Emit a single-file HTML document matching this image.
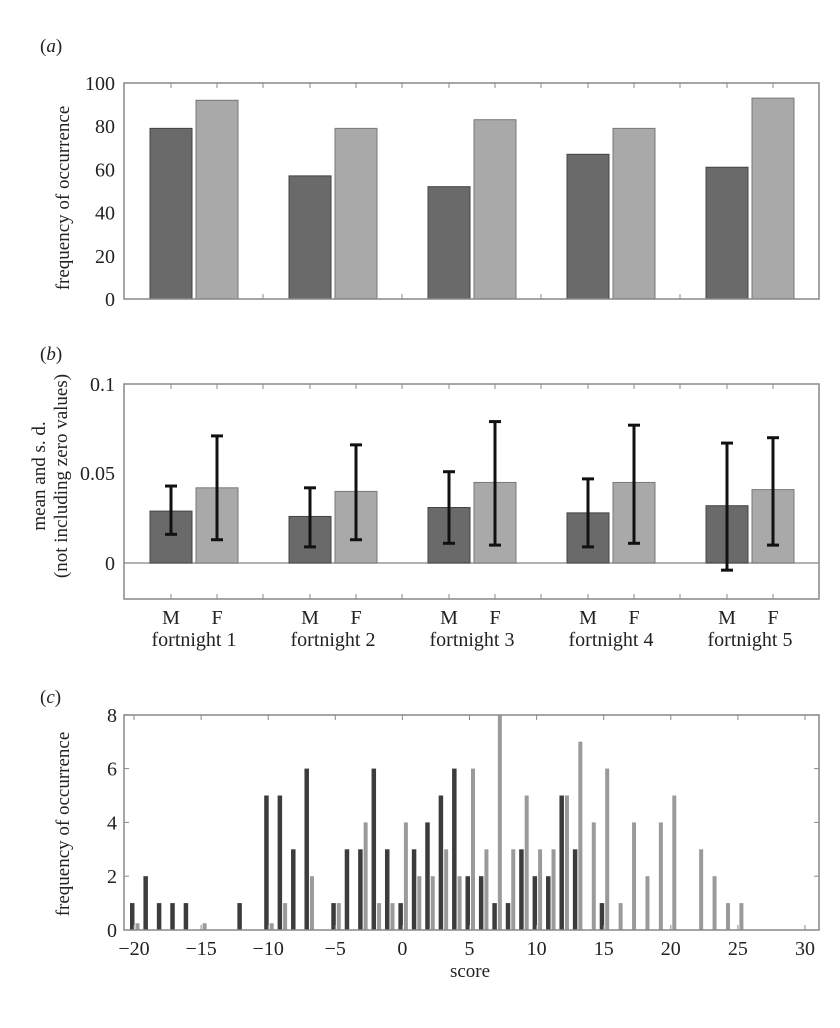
<!DOCTYPE html>
<html><head><meta charset="utf-8"><style>
html,body{margin:0;padding:0;background:#fff;}
svg{display:block;font-family:"Liberation Serif",serif;}
</style></head><body>
<svg id="s" width="840" height="1028" xmlns="http://www.w3.org/2000/svg"></svg>
<script>
var s=document.getElementById('s'),h='';
function R(x,y,w,hh,f,st){h+='<rect x="'+x+'" y="'+y+'" width="'+w+'" height="'+hh+'" fill="'+f+'" stroke="'+(st||'none')+'" stroke-width="1"/>';}
function L(x1,y1,x2,y2,c,w){h+='<line x1="'+x1+'" y1="'+y1+'" x2="'+x2+'" y2="'+y2+'" stroke="'+c+'" stroke-width="'+(w||1)+'"/>';}
function T(x,y,t,sz,a,extra){h+='<text x="'+x+'" y="'+y+'" font-size="'+sz+'" text-anchor="'+(a||'middle')+'" fill="#222" '+(extra||'')+'>'+t+'</text>';}
var D='#6a6a6a',Lg='#a9a9a9',ax='#888';
// panel a
var l=124,r=819;
T(40,52,'(<tspan font-style="italic">a</tspan>)',19,'start');
var da=[79,57,52,67,61],la=[92,79,83,79,93];
for(var i=0;i<5;i++){var x0=150+i*139;
R(x0,299-da[i]*2.16,42,da[i]*2.16,D,'#444');R(x0+46,299-la[i]*2.16,42,la[i]*2.16,Lg,'#777');
L(x0+21,83,x0+21,88,ax);L(x0+67,83,x0+67,88,ax);if(i<4){L(x0+113,83,x0+113,88,ax);L(x0+113,299,x0+113,294,ax);}}
h+='<rect x="124" y="83" width="695" height="216" fill="none" stroke="'+ax+'" stroke-width="1.5"/>';
[0,20,40,60,80,100].forEach(function(v){var y=299-v*2.16;T(115,y+7,v,20,'end');});
T(0,0,'frequency of occurrence',19,'middle','transform="translate(69,198) rotate(-90)"');
// panel b
T(40,360,'(<tspan font-style="italic">b</tspan>)',19,'start');
var db=[[.029,.016,.043],[.026,.009,.042],[.031,.011,.051],[.028,.009,.047],[.032,-.004,.067]];
var lb=[[.042,.013,.071],[.040,.013,.066],[.045,.010,.079],[.045,.011,.077],[.041,.010,.070]];
function Y(v){return 563-v*1790;}
L(124,563,819,563,'#999',1.5);
for(var i=0;i<5;i++){var x0=150+i*139;
R(x0,Y(db[i][0]),42,563-Y(db[i][0]),D,'#444');R(x0+46,Y(lb[i][0]),42,563-Y(lb[i][0]),Lg,'#777');
[[x0+21,db[i]],[x0+67,lb[i]]].forEach(function(p){var c=p[0];L(c,Y(p[1][1]),c,Y(p[1][2]),'#111',3);L(c-6,Y(p[1][1]),c+6,Y(p[1][1]),'#111',3);L(c-6,Y(p[1][2]),c+6,Y(p[1][2]),'#111',3);});
[x0+21,x0+67].forEach(function(c){L(c,384,c,389,ax);L(c,599,c,594,ax);});
if(i<4){L(x0+113,384,x0+113,389,ax);L(x0+113,599,x0+113,594,ax);}
T(x0+21,624,'M',20);T(x0+67,624,'F',20);T(x0+44,646,'fortnight '+(i+1),20);}
h+='<rect x="124" y="384" width="695" height="215" fill="none" stroke="'+ax+'" stroke-width="1.5"/>';
T(115,391,'0.1',20,'end');T(115,480,'0.05',20,'end');T(115,570,'0',20,'end');
T(0,0,'mean and s. d.',19,'middle','transform="translate(45,476) rotate(-90)"');
T(0,0,'(not including zero values)',19,'middle','transform="translate(67,476) rotate(-90)"');
// panel c
T(40,703,'(<tspan font-style="italic">c</tspan>)',19,'start');
function X(v){return 134+(v+20)*13.42;}
function YC(v){return 930-v*26.9;}
var dc={'-20':1,'-19':2,'-18':1,'-17':1,'-16':1,'-12':1,'-10':5,'-9':5,'-8':3,'-7':6,'-5':1,'-4':3,'-3':3,'-2':6,'-1':3,'0':1,'1':3,'2':4,'3':5,'4':6,'5':2,'6':2,'7':1,'8':1,'9':3,'10':2,'11':2,'12':5,'13':3,'15':1};
var lc={'-20':.25,'-15':.25,'-10':.25,'-9':1,'-7':2,'-5':1,'-3':4,'-2':1,'-1':1,'0':4,'1':2,'2':2,'3':3,'4':2,'5':6,'6':3,'7':8,'8':3,'9':5,'10':3,'11':3,'12':5,'13':7,'14':4,'15':6,'16':1,'17':4,'18':2,'19':4,'20':5,'22':3,'23':2,'24':1,'25':1};
for(var k in lc){var x=X(+k)+1.5;R(x,YC(lc[k]),4,930-YC(lc[k]),'#9a9a9a');}
for(var k in dc){var x=X(+k)-4;R(x,YC(dc[k]),4.5,930-YC(dc[k]),'#3c3c3c');}
h+='<rect x="124" y="715" width="695" height="215" fill="none" stroke="'+ax+'" stroke-width="1.5"/>';
for(var v=-20;v<=30;v+=5){var x=X(v);L(x,715,x,720,ax);L(x,930,x,925,ax);T(x,955,(v<0?'\u2212'+(-v):v),20);}
for(var v=0;v<=8;v+=2){var y=YC(v);L(124,y,129,y,ax);L(819,y,814,y,ax);T(117,y+7,v,20,'end');}
T(470,977,'score',19);
T(0,0,'frequency of occurrence',19,'middle','transform="translate(69,824) rotate(-90)"');
s.innerHTML=h;
</script>
</body></html>
